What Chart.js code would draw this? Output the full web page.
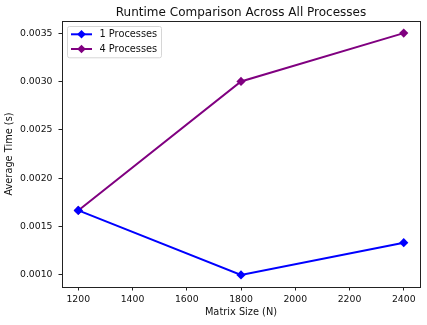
<!DOCTYPE html>
<html>
<head>
<meta charset="utf-8">
<script src="https://cdn.jsdelivr.net/npm/chart.js@4/dist/chart.umd.min.js"></script>
<style>
  html, body { margin: 0; padding: 0; background: #fff; }
  #wrap { width: 427px; height: 325px; }
</style>
</head>
<body>
<div id="wrap"><canvas id="runtime" width="427" height="325"></canvas></div>
<script>
// matrix sizes and average runtimes per process count
const matrixSizes = [1200, 1800, 2400];
const oneProcTimes = [0.0016667, 0.0010, 0.0013333];
const fourProcTimes = [0.0016667, 0.0030, 0.0035];
const xTicks = [1200, 1400, 1600, 1800, 2000, 2200, 2400];
const yTicks = [0.0010, 0.0015, 0.0020, 0.0025, 0.0030, 0.0035];
const chartTitle = "Runtime Comparison Across All Processes";

const FONT = "'DejaVu Sans', sans-serif";

function toPoints(xs, ys) {
  return xs.map((x, i) => ({ x: x, y: ys[i] }));
}

// box around the plot area, like a matplotlib spine set
const frame = {
  id: "frame",
  afterDatasetsDraw(chart) {
    const { ctx, chartArea: a } = chart;
    ctx.save();
    ctx.strokeStyle = "#222";
    ctx.lineWidth = 1;
    ctx.strokeRect(Math.round(a.left) + 0.5, Math.round(a.top) + 0.5,
      Math.round(a.right - a.left), Math.round(a.bottom - a.top));
    ctx.restore();
  }
};

// title centred over the plot area rather than the canvas
const axesTitle = {
  id: "axesTitle",
  afterDraw(chart) {
    const { ctx, chartArea: a } = chart;
    ctx.save();
    ctx.fillStyle = "#111";
    ctx.font = "12px " + FONT;
    ctx.textAlign = "center";
    ctx.textBaseline = "alphabetic";
    ctx.fillText(chartTitle, (a.left + a.right) / 2, a.top - 4.8);
    ctx.restore();
  }
};

// legend with line + marker handles
const lineLegend = {
  id: "lineLegend",
  afterDraw(chart) {
    const { ctx, chartArea: a } = chart;
    const x0 = a.left + 5.5, y0 = a.top + 5.5;
    const w = 94, rowH = 14.7, h = 31.3;
    ctx.save();
    ctx.fillStyle = "rgba(255,255,255,0.8)";
    ctx.strokeStyle = "#d6d6d6";
    ctx.lineWidth = 1;
    ctx.beginPath();
    ctx.roundRect(x0, y0, w, h, 2);
    ctx.fill();
    ctx.stroke();
    chart.data.datasets.forEach((ds, i) => {
      const cy = y0 + 7.8 + i * rowH;
      ctx.strokeStyle = ds.borderColor;
      ctx.lineWidth = 2;
      ctx.beginPath();
      ctx.moveTo(x0 + 3.5, cy);
      ctx.lineTo(x0 + 24.5, cy);
      ctx.stroke();
      ctx.fillStyle = ds.borderColor;
      ctx.beginPath();
      ctx.moveTo(x0 + 14, cy - 4.3);
      ctx.lineTo(x0 + 18.3, cy);
      ctx.lineTo(x0 + 14, cy + 4.3);
      ctx.lineTo(x0 + 9.7, cy);
      ctx.closePath();
      ctx.fill();
      ctx.fillStyle = "#111";
      ctx.font = "9.8px " + FONT;
      ctx.textBaseline = "middle";
      ctx.fillText(ds.label, x0 + 32, cy + 0.5);
    });
    ctx.restore();
  }
};

new Chart(document.getElementById("runtime"), {
  type: "line",
  data: {
    datasets: [
      {
        label: "1 Processes",
        data: toPoints(matrixSizes, oneProcTimes),
        borderColor: "#0000ff",
        backgroundColor: "#0000ff",
        borderWidth: 2,
        pointStyle: "rectRot",
        pointRadius: 4.6,
        pointBorderWidth: 0,
        tension: 0
      },
      {
        label: "4 Processes",
        data: toPoints(matrixSizes, fourProcTimes),
        borderColor: "#800080",
        backgroundColor: "#800080",
        borderWidth: 2,
        pointStyle: "rectRot",
        pointRadius: 4.6,
        pointBorderWidth: 0,
        tension: 0
      }
    ]
  },
  options: {
    responsive: false,
    animation: false,
    layout: { padding: { top: 21, right: 7, bottom: 0, left: 0 } },
    plugins: {
      legend: { display: false },
      tooltip: { enabled: false },
      title: { display: false }
    },
    scales: {
      x: {
        type: "linear",
        min: 1140,
        max: 2460,
        afterBuildTicks: (s) => { s.ticks = xTicks.map((v) => ({ value: v })); },
        afterFit: (s) => { s.height = 38; },
        grid: { drawOnChartArea: false, drawTicks: true, tickLength: 3.5, color: "#222" },
        border: { display: false },
        ticks: {
          color: "#111",
          padding: 3.5,
          maxRotation: 0,
          font: { family: FONT, size: 9.3 },
          callback: (v) => String(v)
        },
        title: {
          display: true,
          text: "Matrix Size (N)",
          color: "#111",
          font: { family: FONT, size: 9.8 },
          padding: { top: 2, bottom: 7 }
        }
      },
      y: {
        type: "linear",
        min: 0.000875,
        max: 0.003625,
        afterBuildTicks: (s) => { s.ticks = yTicks.map((v) => ({ value: v })); },
        afterFit: (s) => { s.width = 62; },
        grid: { drawOnChartArea: false, drawTicks: true, tickLength: 3.5, color: "#222" },
        border: { display: false },
        ticks: {
          color: "#111",
          padding: 6,
          font: { family: FONT, size: 9.3 },
          callback: (v) => Number(v).toFixed(4)
        },
        title: {
          display: true,
          text: "Average Time (s)",
          color: "#111",
          font: { family: FONT, size: 9.8 },
          padding: { top: 4, bottom: 2 }
        }
      }
    }
  },
  plugins: [frame, axesTitle, lineLegend]
});
</script>
</body>
</html>
